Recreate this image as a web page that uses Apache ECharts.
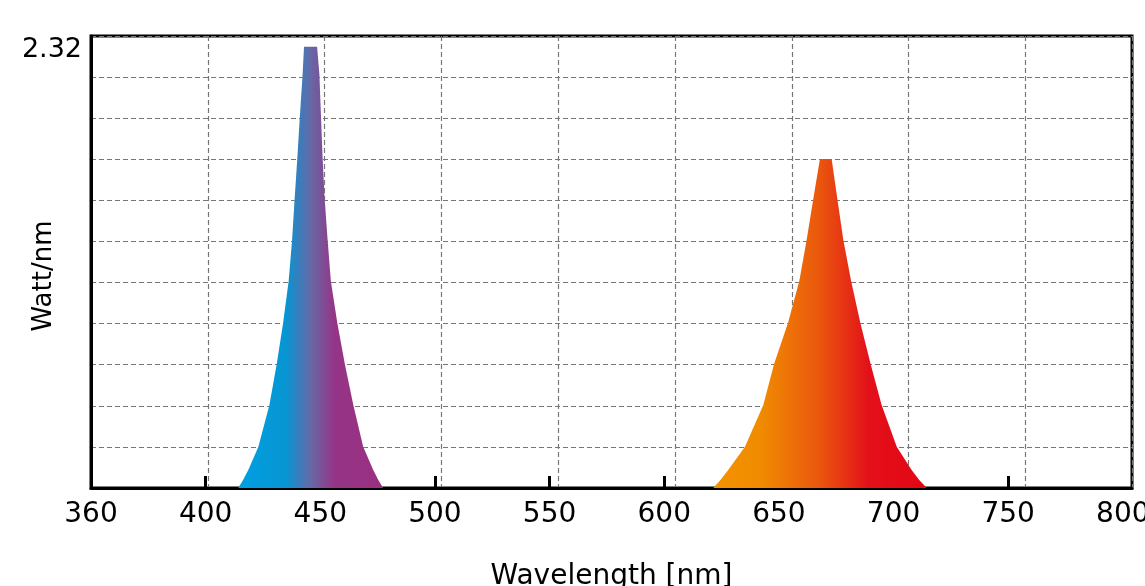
<!DOCTYPE html>
<html>
<head>
<meta charset="utf-8">
<script src="https://cdn.jsdelivr.net/npm/echarts@6/dist/echarts.min.js"></script>
<style>html,body{margin:0;padding:0;background:#fff}#c{width:1145px;height:586px}</style>
</head>
<body>
<div id="c"></div>
<script>
// Tick positions and labels on the wavelength axis
var xTickValues = [350, 400, 450, 500, 550, 600, 650, 700, 750, 800];
var xTickLabels = ['360', '400', '450', '500', '550', '600', '650', '700', '750', '800'];
var xMarkValues = [400, 450, 500, 550, 600, 650, 700, 750];
var yMax = 2.32;
var yLabel = '2.32';

// Blue LED spectrum: [wavelength nm, Watt/nm]
var blueSpectrum = [
  [414.2, 0], [416.3, 0.041], [418.6, 0.092], [423.0, 0.212], [427.8, 0.426], [431.0, 0.636],
  [433.8, 0.848], [436.2, 1.063], [437.7, 1.273], [438.8, 1.484], [440.0, 1.696],
  [441.1, 1.909], [442.3, 2.125], [442.9, 2.265], [448.6, 2.265], [449.6, 2.125],
  [450.3, 1.909], [451.0, 1.696], [451.9, 1.484], [453.2, 1.273], [454.6, 1.063],
  [457.4, 0.848], [460.7, 0.636], [464.4, 0.426], [468.7, 0.212], [473.1, 0.092],
  [475.3, 0.041], [477.4, 0]
];
// Red LED spectrum
var redSpectrum = [
  [621.4, 0], [624.5, 0.041], [627.9, 0.092], [635.2, 0.212], [643.2, 0.426], [647.9, 0.636],
  [654.0, 0.848], [658.9, 1.063], [662.1, 1.273], [665.0, 1.484], [667.9, 1.689],
  [673.0, 1.689], [675.5, 1.484], [678.1, 1.273], [681.5, 1.063], [685.5, 0.848],
  [690.0, 0.636], [694.8, 0.426], [701.4, 0.212], [707.9, 0.092], [711.2, 0.041], [714.5, 0]
];

var FONT = 'DejaVu Sans';
var chart = echarts.init(document.getElementById('c'), null, {renderer: 'canvas'});
var gridDash = {color: '#777777', width: 1.2, type: [5, 3]};

chart.setOption({
  animation: false,
  backgroundColor: '#fff',
  grid: {left: 91, top: 36, right: 13, bottom: 98, show: true, borderColor: '#000', borderWidth: 3,
         containLabel: false, outerBoundsMode: 'none'},
  xAxis: [
    {
      type: 'value', min: 350, max: 804, position: 'bottom',
      name: 'Wavelength [nm]', nameLocation: 'middle', nameGap: 75, nameMoveOverlap: false,
      nameTextStyle: {fontFamily: FONT, fontSize: 28, color: '#000'},
      axisLine: {show: true, lineStyle: {color: '#000', width: 3}},
      axisTick: {show: true, inside: true, length: 12, customValues: xMarkValues, lineStyle: {color: '#000', width: 3}},
      axisLabel: {
        customValues: xTickValues, margin: 13, hideOverlap: false,
        fontFamily: FONT, fontSize: 28, color: '#000',
        formatter: function (v) { var i = xTickValues.indexOf(v); return i >= 0 ? xTickLabels[i] : ''; }
      },
      splitLine: {show: false}
    },
    {
      type: 'value', min: 350, max: 795.6, interval: 50, position: 'top',
      axisLine: {show: false}, axisTick: {show: false}, axisLabel: {show: false},
      splitLine: {show: true, lineStyle: gridDash}
    }
  ],
  yAxis: {
    type: 'value', min: 0, max: yMax, interval: yMax / 11,
    name: 'Watt/nm', nameLocation: 'middle', nameGap: 34, nameRotate: 90, nameMoveOverlap: false,
    nameTextStyle: {fontFamily: FONT, fontSize: 26, color: '#000', padding: [0, 28, 0, 0]},
    axisLine: {show: true, lineStyle: {color: '#000', width: 3}},
    axisTick: {show: false},
    axisLabel: {
      fontFamily: FONT, fontSize: 27, color: '#000', margin: 9,
      verticalAlign: 'top', lineHeight: 27,
      formatter: function (v) { return Math.abs(v - yMax) < 1e-6 ? yLabel : ''; }
    },
    splitLine: {show: true, lineStyle: gridDash}
  },
  series: [
    {
      type: 'line', xAxisIndex: 0, data: blueSpectrum, showSymbol: false, smooth: false,
      lineStyle: {width: 0}, z: 3,
      areaStyle: {opacity: 1, color: new echarts.graphic.LinearGradient(0, 0, 1, 0, [
        {offset: 0, color: '#00a0e2'}, {offset: 0.33, color: '#0795d2'},
        {offset: 0.5, color: '#6569a6'}, {offset: 0.66, color: '#953587'},
        {offset: 1, color: '#9a2f80'}])}
    },
    {
      type: 'line', xAxisIndex: 0, data: redSpectrum, showSymbol: false, smooth: false,
      lineStyle: {width: 0}, z: 3,
      areaStyle: {opacity: 1, color: new echarts.graphic.LinearGradient(0, 0, 1, 0, [
        {offset: 0, color: '#f39200'}, {offset: 0.22, color: '#f08c00'},
        {offset: 0.5, color: '#ea560e'}, {offset: 0.73, color: '#e3101a'},
        {offset: 1, color: '#e30613'}])}
    }
  ]
});
</script>
</body>
</html>
